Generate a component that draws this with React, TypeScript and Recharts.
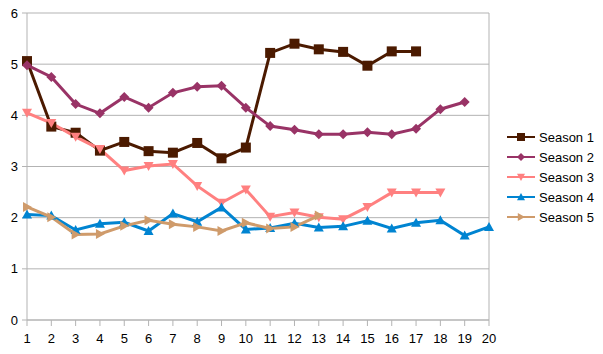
import React from "react";
import {
  LineChart,
  Line,
  XAxis,
  YAxis,
  CartesianGrid,
  Legend,
  ReferenceLine,
} from "recharts";

const episodes = [1, 2, 3, 4, 5, 6, 7, 8, 9, 10, 11, 12, 13, 14, 15, 16, 17, 18, 19, 20];
const season1 = [5.06, 3.78, 3.66, 3.31, 3.48, 3.3, 3.27, 3.46, 3.16, 3.37, 5.22, 5.4, 5.29, 5.24, 4.97, 5.25, 5.25];
const season2 = [4.98, 4.75, 4.22, 4.04, 4.36, 4.15, 4.44, 4.56, 4.58, 4.15, 3.79, 3.72, 3.63, 3.63, 3.67, 3.63, 3.74, 4.12, 4.26];
const season3 = [4.05, 3.85, 3.58, 3.34, 2.92, 3.01, 3.05, 2.62, 2.29, 2.55, 2.02, 2.1, 2.01, 1.97, 2.21, 2.49, 2.49, 2.49];
const season4 = [2.06, 2.04, 1.76, 1.88, 1.91, 1.74, 2.08, 1.92, 2.2, 1.77, 1.8, 1.89, 1.81, 1.83, 1.94, 1.79, 1.9, 1.95, 1.65, 1.82];
const season5 = [2.21, 2.01, 1.67, 1.68, 1.84, 1.95, 1.87, 1.82, 1.74, 1.9, 1.79, 1.82, 2.04];
const yTicks = [0, 1, 2, 3, 4, 5, 6];

const data = episodes.map((ep, i) => ({
  ep,
  s1: season1[i],
  s2: season2[i],
  s3: season3[i],
  s4: season4[i],
  s5: season5[i],
}));

type Shape = "square" | "diamond" | "down" | "up" | "right";

const series: { key: string; name: string; color: string; shape: Shape }[] = [
  { key: "s1", name: "Season 1", color: "#4b1a00", shape: "square" },
  { key: "s2", name: "Season 2", color: "#993366", shape: "diamond" },
  { key: "s3", name: "Season 3", color: "#ff8080", shape: "down" },
  { key: "s4", name: "Season 4", color: "#0084d1", shape: "up" },
  { key: "s5", name: "Season 5", color: "#cf9b6b", shape: "right" },
];

const marker = (shape: Shape, cx: number, cy: number, color: string, s: number) => {
  switch (shape) {
    case "square":
      return <rect x={cx - s} y={cy - s} width={s * 2} height={s * 2} fill={color} />;
    case "diamond":
      return <polygon points={`${cx},${cy - s} ${cx + s},${cy} ${cx},${cy + s} ${cx - s},${cy}`} fill={color} />;
    case "down":
      return <polygon points={`${cx - s},${cy - s * 0.8} ${cx + s},${cy - s * 0.8} ${cx},${cy + s}`} fill={color} />;
    case "up":
      return <polygon points={`${cx - s},${cy + s * 0.8} ${cx + s},${cy + s * 0.8} ${cx},${cy - s}`} fill={color} />;
    default:
      return <polygon points={`${cx - s * 0.8},${cy - s} ${cx - s * 0.8},${cy + s} ${cx + s},${cy}`} fill={color} />;
  }
};

const makeDot = (shape: Shape, color: string) => (props: any) => {
  const { cx, cy, index, value } = props;
  if (value == null || cx == null || cy == null) return <g key={index} />;
  return <g key={index}>{marker(shape, cx, cy, color, 5)}</g>;
};

const LegendBox = () => (
  <div style={{ fontFamily: "Liberation Sans, Arial, sans-serif", fontSize: 13 }}>
    {series.map((s) => (
      <div key={s.key} style={{ display: "flex", alignItems: "center", height: 20 }}>
        <svg width={30} height={12}>
          <line x1={0} y1={6} x2={28} y2={6} stroke={s.color} strokeWidth={2} />
          {marker(s.shape, 14, 6, s.color, 4)}
        </svg>
        <span style={{ marginLeft: 2, color: "#000" }}>{s.name}</span>
      </div>
    ))}
  </div>
);

export default function App() {
  return (
    <div style={{ position: "absolute", left: 0, top: 0, background: "#fff" }}>
      <LineChart
        width={603}
        height={354}
        data={data}
        margin={{ top: 13, right: 114, left: 4, bottom: 6 }}
        style={{ fontFamily: "Liberation Sans, Arial, sans-serif" }}
      >
        <CartesianGrid vertical={false} stroke="#b3b3b3" />
        <ReferenceLine x={20} stroke="#b3b3b3" />
        <XAxis
          dataKey="ep"
          type="number"
          domain={[1, 20]}
          ticks={episodes}
          interval={0}
          height={28}
          stroke="#b3b3b3"
          tickSize={6}
          tickMargin={8}
          tick={{ fill: "#000", fontSize: 13 }}
        />
        <YAxis
          domain={[0, 6]}
          ticks={yTicks}
          width={23}
          stroke="#b3b3b3"
          tickSize={5}
          tickMargin={4}
          tick={{ fill: "#000", fontSize: 13 }}
        />
        <Legend
          layout="vertical"
          align="center"
          verticalAlign="middle"
          content={() => <LegendBox />}
          wrapperStyle={{ left: 507, top: 127, width: 96 }}
        />
        {series.map((s) => (
          <Line
            key={s.key}
            dataKey={s.key}
            name={s.name}
            stroke={s.color}
            strokeWidth={3}
            dot={makeDot(s.shape, s.color)}
            activeDot={false}
            isAnimationActive={false}
          />
        ))}
      </LineChart>
    </div>
  );
}
